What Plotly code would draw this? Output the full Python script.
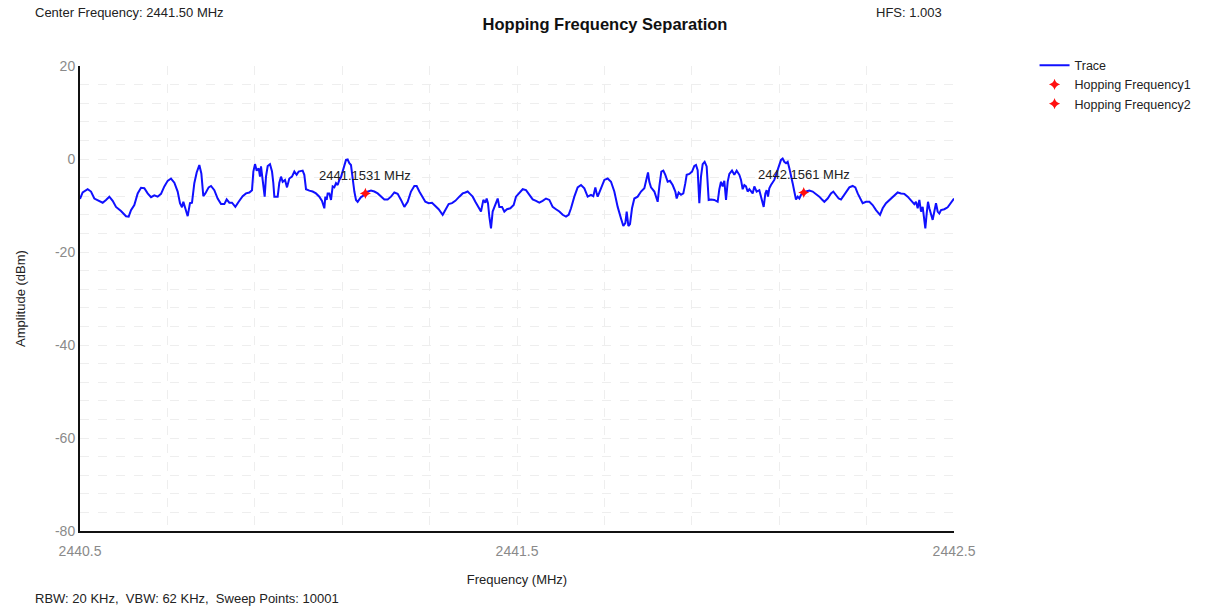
import plotly.graph_objects as go

# Spectrum trace (frequency in MHz, amplitude in dBm)
freq_mhz = [
    2440.5000, 2440.5061, 2440.5175, 2440.5252, 2440.5328, 2440.5442, 2440.5519, 2440.5595,
    2440.5671, 2440.5748, 2440.5824, 2440.5938, 2440.6053, 2440.6114, 2440.6167, 2440.6243,
    2440.6320, 2440.6396, 2440.6472, 2440.6548, 2440.6625, 2440.6701, 2440.6777, 2440.6854,
    2440.6930, 2440.7006, 2440.7082, 2440.7159, 2440.7235, 2440.7288, 2440.7334, 2440.7365,
    2440.7410, 2440.7464, 2440.7517, 2440.7563, 2440.7616, 2440.7670, 2440.7731, 2440.7777,
    2440.7822, 2440.7868, 2440.7944, 2440.7998, 2440.8074, 2440.8150, 2440.8227, 2440.8303,
    2440.8356, 2440.8417, 2440.8478, 2440.8555, 2440.8631, 2440.8722, 2440.8799, 2440.8875,
    2440.8936, 2440.8967, 2440.9005, 2440.9043, 2440.9089, 2440.9119, 2440.9142, 2440.9180,
    2440.9226, 2440.9256, 2440.9295, 2440.9348, 2440.9394, 2440.9424, 2440.9447, 2440.9523,
    2440.9561, 2440.9600, 2440.9638, 2440.9691, 2440.9737, 2440.9790, 2440.9851, 2440.9905,
    2440.9958, 2441.0004, 2441.0095, 2441.0133, 2441.0172, 2441.0248, 2441.0324, 2441.0400,
    2441.0477, 2441.0538, 2441.0591, 2441.0614, 2441.0645, 2441.0667, 2441.0706, 2441.0744,
    2441.0782, 2441.0820, 2441.0858, 2441.0896, 2441.0934, 2441.0973, 2441.1011, 2441.1049,
    2441.1087, 2441.1125, 2441.1163, 2441.1201, 2441.1239, 2441.1278, 2441.1316, 2441.1354,
    2441.1392, 2441.1430, 2441.1468, 2441.1531, 2441.1583, 2441.1659, 2441.1735, 2441.1812,
    2441.1888, 2441.1964, 2441.2040, 2441.2117, 2441.2193, 2441.2269, 2441.2346, 2441.2422,
    2441.2498, 2441.2574, 2441.2651, 2441.2704, 2441.2765, 2441.2841, 2441.2902, 2441.2979,
    2441.3055, 2441.3131, 2441.3207, 2441.3299, 2441.3360, 2441.3436, 2441.3513, 2441.3589,
    2441.3680, 2441.3757, 2441.3818, 2441.3871, 2441.3924, 2441.3986, 2441.4047, 2441.4123,
    2441.4176, 2441.4230, 2441.4275, 2441.4306, 2441.4336, 2441.4367, 2441.4405, 2441.4443,
    2441.4481, 2441.4519, 2441.4558, 2441.4596, 2441.4657, 2441.4710, 2441.4771, 2441.4847,
    2441.4924, 2441.4977, 2441.5038, 2441.5130, 2441.5206, 2441.5282, 2441.5359, 2441.5435,
    2441.5511, 2441.5587, 2441.5664, 2441.5740, 2441.5816, 2441.5892, 2441.5969, 2441.6045,
    2441.6121, 2441.6182, 2441.6236, 2441.6312, 2441.6388, 2441.6465, 2441.6541, 2441.6617,
    2441.6693, 2441.6747, 2441.6793, 2441.6823, 2441.6846, 2441.6922, 2441.6999, 2441.7075,
    2441.7151, 2441.7227, 2441.7304, 2441.7380, 2441.7433, 2441.7479, 2441.7510, 2441.7548,
    2441.7586, 2441.7632, 2441.7685, 2441.7761, 2441.7838, 2441.7914, 2441.7967, 2441.7998,
    2441.8028, 2441.8066, 2441.8143, 2441.8219, 2441.8257, 2441.8303, 2441.8348, 2441.8394,
    2441.8448, 2441.8501, 2441.8562, 2441.8623, 2441.8654, 2441.8699, 2441.8753, 2441.8806,
    2441.8852, 2441.8883, 2441.8944, 2441.9005, 2441.9058, 2441.9096, 2441.9134, 2441.9172,
    2441.9210, 2441.9249, 2441.9294, 2441.9340, 2441.9386, 2441.9439, 2441.9516, 2441.9592,
    2441.9630, 2441.9668, 2441.9706, 2441.9744, 2441.9783, 2441.9821, 2441.9859, 2441.9920,
    2441.9973, 2442.0027, 2442.0088, 2442.0126, 2442.0164, 2442.0202, 2442.0240, 2442.0278,
    2442.0317, 2442.0355, 2442.0393, 2442.0431, 2442.0484, 2442.0545, 2442.0583, 2442.0622,
    2442.0645, 2442.0683, 2442.0713, 2442.0744, 2442.0774, 2442.0812, 2442.0850, 2442.0888,
    2442.0927, 2442.0965, 2442.1003, 2442.1041, 2442.1079, 2442.1117, 2442.1156, 2442.1194,
    2442.1232, 2442.1270, 2442.1308, 2442.1346, 2442.1384, 2442.1423, 2442.1461, 2442.1499,
    2442.1561, 2442.1613, 2442.1690, 2442.1766, 2442.1842, 2442.1918, 2442.1979, 2442.2033,
    2442.2109, 2442.2185, 2442.2239, 2442.2300, 2442.2361, 2442.2414, 2442.2468, 2442.2529,
    2442.2605, 2442.2681, 2442.2742, 2442.2796, 2442.2849, 2442.2910, 2442.2986, 2442.3063,
    2442.3139, 2442.3215, 2442.3307, 2442.3368, 2442.3444, 2442.3520, 2442.3597, 2442.3658,
    2442.3711, 2442.3787, 2442.3864, 2442.3940, 2442.4016, 2442.4092, 2442.4130, 2442.4169,
    2442.4207, 2442.4245, 2442.4283, 2442.4321, 2442.4344, 2442.4375, 2442.4405, 2442.4436,
    2442.4474, 2442.4512, 2442.4550, 2442.4588, 2442.4626, 2442.4664, 2442.4703, 2442.4779,
    2442.4855, 2442.4931, 2442.5000,
]
amp_dbm = [
    -8.6, -7.2, -6.5, -7.0, -8.5, -9.0, -9.4, -8.8,
    -8.1, -9.0, -10.3, -11.2, -12.3, -12.4, -11.0, -9.9,
    -7.4, -6.2, -6.3, -7.4, -8.2, -7.8, -8.1, -7.5,
    -5.9, -4.7, -4.2, -5.1, -7.0, -9.5, -10.4, -9.2,
    -10.6, -12.3, -9.5, -9.4, -5.2, -2.9, -1.3, -3.1,
    -8.0, -7.4, -6.1, -5.8, -6.7, -8.5, -9.7, -9.7,
    -8.7, -9.4, -9.4, -10.3, -9.2, -8.0, -7.4, -7.2,
    -6.7, -2.7, -1.1, -2.5, -2.0, -3.8, -1.6, -4.5,
    -8.1, -3.8, -1.5, -1.1, -2.7, -5.2, -8.1, -8.1,
    -5.1, -3.8, -4.9, -4.5, -6.1, -4.2, -3.8, -2.7,
    -3.4, -2.7, -2.5, -3.4, -6.5, -6.8, -7.0, -7.4,
    -8.1, -9.0, -10.6, -8.1, -8.8, -7.4, -7.4, -8.8,
    -5.9, -6.1, -5.2, -5.6, -4.5, -3.9, -2.7, -1.6,
    -0.2, -0.1, -0.9, -1.3, -4.9, -7.0, -8.8, -9.2,
    -8.7, -8.2, -8.0, -7.4, -7.0, -6.8, -7.0, -7.4,
    -8.1, -8.7, -8.7, -8.1, -7.2, -7.5, -8.8, -10.3,
    -9.2, -7.0, -5.8, -5.8, -7.0, -8.1, -9.2, -9.5,
    -9.4, -10.1, -10.8, -12.0, -11.0, -9.7, -9.5, -9.0,
    -8.1, -7.4, -7.2, -7.0, -7.5, -8.1, -9.2, -10.6,
    -11.3, -8.8, -9.4, -8.5, -9.5, -12.4, -14.9, -11.3,
    -10.3, -9.7, -8.5, -10.3, -10.3, -11.3, -10.8, -10.6,
    -9.9, -8.1, -7.4, -6.5, -6.7, -7.7, -8.7, -9.0,
    -9.4, -9.0, -8.5, -8.8, -10.3, -10.8, -11.3, -12.0,
    -12.4, -12.0, -10.6, -8.1, -6.1, -5.6, -6.3, -8.1,
    -7.7, -8.0, -6.1, -7.4, -8.1, -6.3, -4.5, -4.2,
    -4.9, -7.0, -10.3, -12.8, -14.4, -13.8, -11.3, -14.4,
    -14.0, -10.6, -8.5, -8.1, -7.0, -6.3, -4.5, -2.9,
    -4.9, -6.1, -7.0, -9.2, -5.9, -2.7, -2.5, -3.4,
    -4.9, -4.7, -5.6, -7.0, -8.5, -7.2, -7.7, -7.4,
    -5.2, -3.4, -3.2, -2.7, -1.5, -1.3, -2.4, -9.5,
    -3.8, -1.1, -0.6, -1.6, -8.8, -8.7, -8.8, -9.2,
    -6.5, -4.9, -5.9, -4.7, -8.8, -4.9, -3.2, -2.5,
    -3.4, -2.5, -3.4, -4.5, -6.5, -5.6, -5.9, -7.0,
    -6.5, -7.0, -7.4, -5.9, -7.0, -6.7, -8.1, -9.2,
    -10.3, -7.4, -6.7, -8.1, -6.3, -5.6, -4.9, -4.5,
    -3.4, -2.4, -1.3, -0.2, 0.1, -0.6, -0.9, -0.6,
    -2.0, -3.4, -5.2, -7.0, -8.7, -8.1, -8.5, -7.7,
    -7.2, -7.0, -6.8, -7.0, -7.5, -8.1, -8.7, -9.2,
    -8.5, -7.4, -7.0, -7.7, -8.5, -8.7, -8.0, -7.0,
    -6.1, -5.8, -6.1, -7.4, -8.5, -9.5, -9.2, -9.2,
    -9.9, -11.0, -12.0, -10.6, -9.5, -8.8, -8.1, -7.5,
    -7.2, -7.4, -7.5, -8.1, -8.8, -9.7, -9.2, -10.6,
    -8.8, -11.3, -10.3, -12.8, -14.9, -11.7, -9.2, -10.6,
    -11.7, -13.1, -11.3, -9.5, -11.3, -11.7, -11.0, -10.8,
    -10.4, -9.5, -8.5,
]

# Detected hopping channels
hop1_freq = [2441.1531]
hop1_amp = [-7.4]
hop2_freq = [2442.1561]
hop2_amp = [-7.2]

x_ticks = [2440.5, 2441.5, 2442.5]
y_ticks = [20, 0, -20, -40, -60, -80]

center_freq = (x_ticks[0] + x_ticks[-1]) / 2
hfs = hop2_freq[0] - hop1_freq[0]

FONT = "Liberation Sans, Arial, sans-serif"

fig = go.Figure()
fig.add_trace(go.Scatter(
    x=freq_mhz, y=amp_dbm, mode="lines", name="Trace",
    line=dict(color="#1010ff", width=2),
))
marker_labels = []
for name, fx, fy in [("Hopping Frequency1", hop1_freq, hop1_amp),
                     ("Hopping Frequency2", hop2_freq, hop2_amp)]:
    fig.add_trace(go.Scatter(
        x=fx, y=fy, mode="markers", name=name,
        marker=dict(symbol="star-diamond", size=8, color="#ff1010"),
    ))
    for vx, vy in zip(fx, fy):
        marker_labels.append(dict(
            x=vx, y=vy, xref="x", yref="y", text=f"{vx:.4f} MHz",
            showarrow=False, yshift=18, xanchor="center", yanchor="middle",
            font=dict(family=FONT, size=13, color="#222222"),
        ))

grid_color = "#eeeeee"
fig.update_layout(
    width=1210, height=609,
    margin=dict(l=80, r=256, t=66, b=78, autoexpand=False),
    paper_bgcolor="white", plot_bgcolor="white",
    font=dict(family=FONT, size=12, color="#222222"),
    title=dict(text="<b>Hopping Frequency Separation</b>", x=0.5, xref="container",
               xanchor="center", y=0.96, yref="container", yanchor="middle",
               font=dict(family=FONT, size=16.5, color="#111111")),
    showlegend=True,
    legend=dict(xref="container", x=0.855, xanchor="left",
                yref="container", y=0.917, yanchor="top",
                font=dict(family=FONT, size=12.5, color="#222222"),
                bgcolor="rgba(0,0,0,0)", tracegroupgap=0, itemwidth=30),
    xaxis=dict(
        range=[x_ticks[0], x_ticks[-1]], tickvals=x_ticks,
        ticktext=[f"{v:.1f}" for v in x_ticks],
        showline=True, linecolor="#111111", linewidth=2, mirror=False,
        ticks="", ticklabelstandoff=6,
        tickfont=dict(family=FONT, size=14, color="#8a8a8a"),
        showgrid=True, gridcolor=grid_color, griddash="dash", gridwidth=1,
        minor=dict(dtick=0.2, tick0=2440.5, showgrid=True, gridcolor=grid_color,
                   griddash="dash", gridwidth=1),
        zeroline=False,
        title=dict(text="Frequency (MHz)", standoff=17,
                   font=dict(family=FONT, size=13, color="#222222")),
    ),
    yaxis=dict(
        range=[-80, 20], tickvals=y_ticks,
        ticktext=[str(v) for v in y_ticks],
        showline=True, linecolor="#111111", linewidth=2, mirror=False,
        ticks="", tickfont=dict(family=FONT, size=14, color="#8a8a8a"),
        showgrid=True, gridcolor=grid_color, griddash="dash", gridwidth=1,
        minor=dict(dtick=4, tick0=-80, showgrid=True, gridcolor=grid_color,
                   griddash="dash", gridwidth=1),
        zeroline=False,
        title=dict(text="Amplitude (dBm)", standoff=26,
                   font=dict(family=FONT, size=13, color="#222222")),
    ),
    annotations=marker_labels + [
        dict(text=f"Center Frequency: {center_freq:.2f} MHz", xref="paper", yref="paper",
             x=-0.054, y=1.115, xanchor="left", yanchor="middle", showarrow=False,
             font=dict(family=FONT, size=13, color="#222222")),
        dict(text=f"HFS: {hfs:.3f}", xref="paper", yref="paper",
             x=0.988, y=1.115, xanchor="right", yanchor="middle", showarrow=False,
             font=dict(family=FONT, size=13, color="#222222")),
        dict(text="RBW: 20 KHz,  VBW: 62 KHz,  Sweep Points: 10001", xref="paper", yref="paper",
             x=-0.054, y=-0.146, xanchor="left", yanchor="middle", showarrow=False,
             font=dict(family=FONT, size=13, color="#222222")),
    ],
)

fig.write_html("out.html")
